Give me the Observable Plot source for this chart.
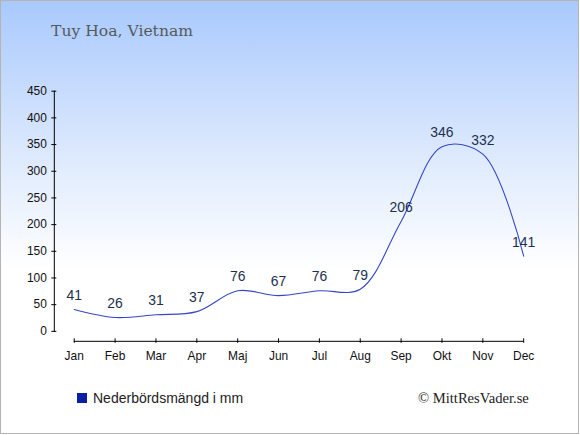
<!DOCTYPE html>
<html>
<head>
<meta charset="utf-8">
<script src="https://cdn.jsdelivr.net/npm/d3@7"></script>
<script src="https://cdn.jsdelivr.net/npm/@observablehq/plot@0.6"></script>
<style>
  html, body { margin: 0; padding: 0; background: #fff; }
  #box {
    position: relative; box-sizing: border-box;
    width: 579px; height: 434px;
    border: 1px solid #b4b4b4;
    background: linear-gradient(to bottom, #a9c9fd 0%, #dce9fd 35%, #ffffff 62%, #ffffff 100%);
    overflow: hidden;
  }
  #title {
    position: absolute; left: 50px; top: 21px;
    font-family: "DejaVu Serif", serif; font-size: 15.6px; color: #555a60;
  }
  #chart { position: absolute; left: -1px; top: -1px; }
  #legend {
    position: absolute; left: 76px; top: 389px;
    font-family: "Liberation Sans", Arial, sans-serif; font-size: 14px; color: #222;
    display: flex; align-items: center;
  }
  #legend .sw { width: 10px; height: 10px; background: #0a1fa6; margin-right: 6px; }
  #copy {
    position: absolute; left: 417px; top: 389px;
    font-family: "Liberation Serif", "Times New Roman", serif; font-size: 14.6px; color: #222;
  }
</style>
</head>
<body>
<div id="box">
  <div id="title">Tuy Hoa, Vietnam</div>
  <div id="chart"></div>
  <div id="legend"><div class="sw"></div><span>Nederbördsmängd i mm</span></div>
  <div id="copy">© MittResVader.se</div>
</div>
<script>
const months = ["Jan","Feb","Mar","Apr","Maj","Jun","Jul","Aug","Sep","Okt","Nov","Dec"];
const rain = [41, 26, 31, 37, 76, 67, 76, 79, 206, 346, 332, 141];
const yTicks = [0, 50, 100, 150, 200, 250, 300, 350, 400, 450];

const data = months.map((m, i) => ({i, m, v: rain[i]}));

const plot = Plot.plot({
  width: 580,
  height: 380,
  marginLeft: 54,
  marginRight: 55,
  marginTop: 91,
  marginBottom: 48,
  style: {background: "transparent", fontFamily: "'Liberation Sans', Arial, sans-serif", fontSize: "12px", overflow: "visible"},
  x: {domain: [0, 11], range: [74, 525]},
  y: {domain: [0, 450]},
  marks: [
    Plot.frame({anchor: "left", stroke: "#000"}),
    Plot.axisY({ticks: yTicks, tickSize: 5, dx: 2.5, tickPadding: 5, fill: "#111", label: null, fontSize: 12}),
    Plot.ruleY([0], {x1: 0, x2: 11, dy: 10, stroke: "#000"}),
    Plot.axisX({ticks: d3.range(12), tickFormat: i => months[i], tickSize: 4.5, dy: 7.5, tickPadding: 8, fill: "#111", label: null, fontSize: 12}),
    Plot.line(data, {x: "i", y: "v", curve: "catmull-rom", stroke: "#3646c8", strokeWidth: 1.1}),
    Plot.text(data, {x: "i", y: "v", text: d => String(d.v), dy: -14, fill: "#1e3050", fontSize: 14})
  ]
});
document.getElementById("chart").appendChild(plot);
</script>
</body>
</html>
